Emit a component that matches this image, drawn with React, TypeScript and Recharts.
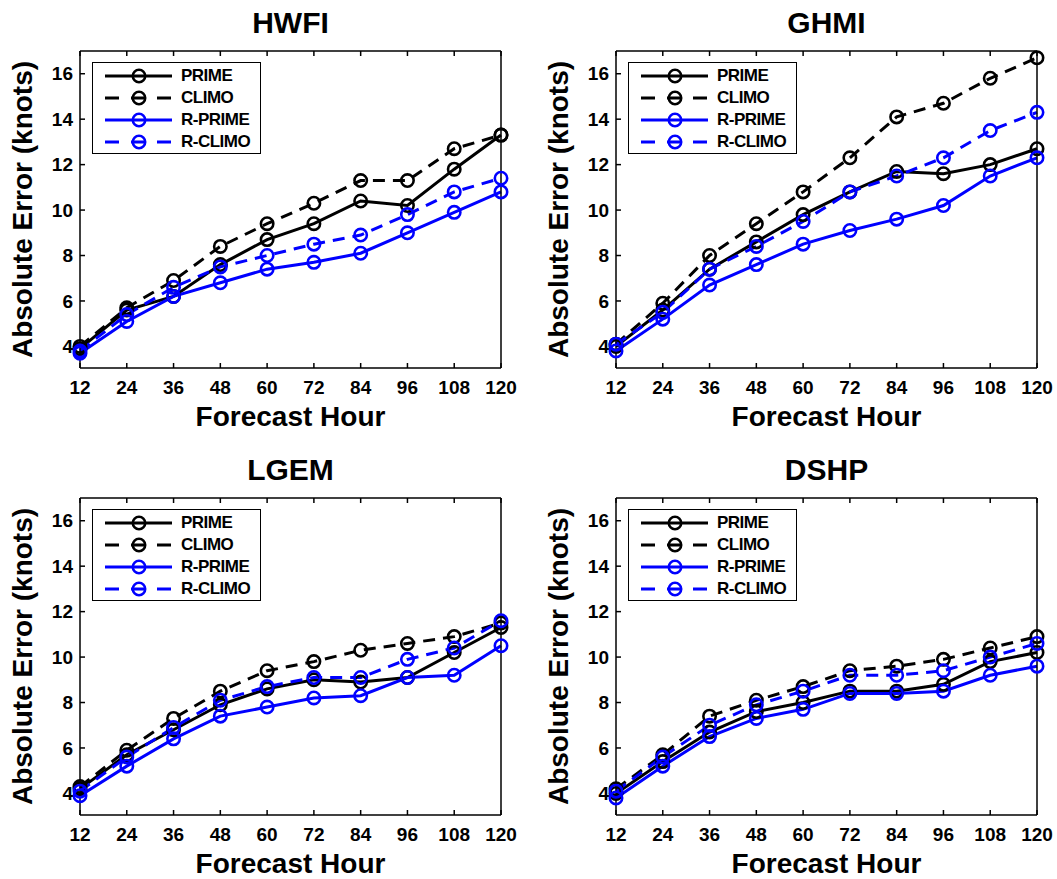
import React from 'react';
import { LineChart, Line, XAxis, YAxis } from 'recharts';

const hours = [12, 24, 36, 48, 60, 72, 84, 96, 108, 120];
const yTicks = [4, 6, 8, 10, 12, 14, 16];

const hwfiPrime = [3.9, 5.6, 6.2, 7.6, 8.7, 9.4, 10.4, 10.2, 11.8, 13.3];
const hwfiClimo = [4.0, 5.7, 6.9, 8.4, 9.4, 10.3, 11.3, 11.3, 12.7, 13.3];
const hwfiRPrime = [3.7, 5.1, 6.2, 6.8, 7.4, 7.7, 8.1, 9.0, 9.9, 10.8];
const hwfiRClimo = [3.8, 5.4, 6.6, 7.5, 8.0, 8.5, 8.9, 9.8, 10.8, 11.4];

const ghmiPrime = [4.0, 5.6, 7.4, 8.6, 9.8, 10.8, 11.7, 11.6, 12.0, 12.7];
const ghmiClimo = [4.1, 5.9, 8.0, 9.4, 10.8, 12.3, 14.1, 14.7, 15.8, 16.7];
const ghmiRPrime = [3.8, 5.2, 6.7, 7.6, 8.5, 9.1, 9.6, 10.2, 11.5, 12.3];
const ghmiRClimo = [4.1, 5.5, 7.4, 8.4, 9.5, 10.8, 11.5, 12.3, 13.5, 14.3];

const lgemPrime = [4.2, 5.7, 6.8, 7.9, 8.6, 9.0, 8.9, 9.1, 10.2, 11.3];
const lgemClimo = [4.3, 5.9, 7.3, 8.5, 9.4, 9.8, 10.3, 10.6, 10.9, 11.5];
const lgemRPrime = [3.9, 5.2, 6.4, 7.4, 7.8, 8.2, 8.3, 9.1, 9.2, 10.5];
const lgemRClimo = [4.1, 5.6, 6.9, 8.1, 8.7, 9.1, 9.1, 9.9, 10.4, 11.6];

const dshpPrime = [4.0, 5.4, 6.7, 7.6, 8.0, 8.5, 8.5, 8.8, 9.8, 10.2];
const dshpClimo = [4.2, 5.7, 7.4, 8.1, 8.7, 9.4, 9.6, 9.9, 10.4, 10.9];
const dshpRPrime = [3.8, 5.2, 6.5, 7.3, 7.7, 8.4, 8.4, 8.5, 9.2, 9.6];
const dshpRClimo = [4.1, 5.6, 7.0, 7.9, 8.5, 9.2, 9.2, 9.4, 10.0, 10.6];

const FONT = '"Liberation Sans", Arial, sans-serif';
const BLUE = '#0000ff';
const DASH = '12 8';

const seriesStyle = [
  { key: 'prime', name: 'PRIME', color: '#000', dashed: false },
  { key: 'climo', name: 'CLIMO', color: '#000', dashed: true },
  { key: 'rPrime', name: 'R-PRIME', color: BLUE, dashed: false },
  { key: 'rClimo', name: 'R-CLIMO', color: BLUE, dashed: true },
];

const PLOT_W = 421;
const PLOT_H = 317;

interface PanelProps {
  title: string;
  plotLeft: number;
  plotTop: number;
  prime: number[];
  climo: number[];
  rPrime: number[];
  rClimo: number[];
}

// open circle markers, no dash pattern
const ringDot = (color: string) => (p: any) => (
  <circle key={p.key ?? `${p.cx}-${p.cy}`} cx={p.cx} cy={p.cy} r={6.2} fill="none" stroke={color} strokeWidth={2.6} />
);

const LegendBox = () => (
  <div
    style={{
      position: 'absolute',
      left: 12,
      top: 11,
      width: 169,
      height: 92,
      border: '1.5px solid #000',
      background: '#fff',
      fontFamily: FONT,
      fontWeight: 'bold',
      fontSize: 17,
      boxSizing: 'border-box',
    }}
  >
    {seriesStyle.map((s, i) => (
      <div key={s.key} style={{ position: 'absolute', left: 0, top: 2 + i * 22, height: 22, display: 'flex', alignItems: 'center' }}>
        <svg width={88} height={22} style={{ display: 'block' }}>
          <line x1={12} y1={11} x2={79} y2={11} stroke={s.color} strokeWidth={3} strokeDasharray={s.dashed ? '14 12' : undefined} />
          <circle cx={46} cy={11} r={6.2} fill="none" stroke={s.color} strokeWidth={2.6} />
        </svg>
        <span style={{ color: '#000', lineHeight: '22px', letterSpacing: -0.5 }}>{s.name}</span>
      </div>
    ))}
  </div>
);

const Panel: React.FC<PanelProps> = ({ title, plotLeft, plotTop, prime, climo, rPrime, rClimo }) => {
  const data = hours.map((h, i) => ({ hour: h, prime: prime[i], climo: climo[i], rPrime: rPrime[i], rClimo: rClimo[i] }));
  const boxW = 80 + PLOT_W + 20;
  const boxH = 51 + PLOT_H + 62;
  const tickStyle = { fill: '#000', fontSize: 19, fontWeight: 'bold' as const, fontFamily: FONT };

  return (
    <div style={{ position: 'absolute', left: plotLeft - 80, top: plotTop - 51, width: boxW, height: boxH }}>
      <LineChart width={boxW} height={boxH} data={data} margin={{ top: 50, right: 19, left: 0, bottom: 0 }}>
        <XAxis
          xAxisId="bottom"
          dataKey="hour"
          type="number"
          domain={[12, 120]}
          ticks={hours}
          height={62}
          stroke="#000"
          strokeWidth={1.5}
          tickSize={-5}
          tickMargin={18}
          tick={tickStyle}
        />
        <XAxis
          xAxisId="top"
          orientation="top"
          dataKey="hour"
          type="number"
          domain={[12, 120]}
          ticks={hours}
          height={1}
          stroke="#000"
          strokeWidth={1.5}
          tickSize={-5}
          tickFormatter={() => ''}
        />
        <YAxis
          yAxisId="left"
          type="number"
          domain={[3.05, 17]}
          ticks={yTicks}
          width={80}
          stroke="#000"
          strokeWidth={1.5}
          tickSize={-5}
          tickMargin={12}
          tick={tickStyle}
        />
        <YAxis
          yAxisId="right"
          orientation="right"
          type="number"
          domain={[3.05, 17]}
          ticks={yTicks}
          width={1}
          stroke="#000"
          strokeWidth={1.5}
          tickSize={-5}
          tickFormatter={() => ''}
        />
        {seriesStyle.map((s) => (
          <Line
            key={s.key}
            xAxisId="bottom"
            yAxisId="left"
            type="linear"
            dataKey={s.key}
            name={s.name}
            stroke={s.color}
            strokeWidth={3}
            strokeDasharray={s.dashed ? DASH : undefined}
            dot={ringDot(s.color)}
            activeDot={false}
            isAnimationActive={false}
          />
        ))}
      </LineChart>
      <div style={{ position: 'absolute', left: 80, top: 51 }}>
        <LegendBox />
      </div>
      <svg width={boxW} height={boxH} style={{ position: 'absolute', left: 0, top: 0, pointerEvents: 'none', overflow: 'visible' }}>
        <text x={80 + PLOT_W / 2} y={33} textAnchor="middle" fontFamily={FONT} fontWeight="bold" fontSize={30} fill="#000">
          {title}
        </text>
        <text x={80 + PLOT_W / 2} y={51 + PLOT_H + 58} textAnchor="middle" fontFamily={FONT} fontWeight="bold" fontSize={28} fill="#000">
          Forecast Hour
        </text>
        <text
          x={32}
          y={51 + PLOT_H / 2}
          transform={`rotate(-90 32 ${51 + PLOT_H / 2})`}
          textAnchor="middle"
          fontFamily={FONT}
          fontWeight="bold"
          fontSize={28}
          fill="#000"
        >
          Absolute Error (knots)
        </text>
      </svg>
    </div>
  );
};

export default function App() {
  return (
    <div style={{ position: 'absolute', left: 0, top: 0, width: 1057, height: 879, background: '#fff', overflow: 'hidden' }}>
      <Panel title="HWFI" plotLeft={80} plotTop={51} prime={hwfiPrime} climo={hwfiClimo} rPrime={hwfiRPrime} rClimo={hwfiRClimo} />
      <Panel title="GHMI" plotLeft={616} plotTop={51} prime={ghmiPrime} climo={ghmiClimo} rPrime={ghmiRPrime} rClimo={ghmiRClimo} />
      <Panel title="LGEM" plotLeft={80} plotTop={498} prime={lgemPrime} climo={lgemClimo} rPrime={lgemRPrime} rClimo={lgemRClimo} />
      <Panel title="DSHP" plotLeft={616} plotTop={498} prime={dshpPrime} climo={dshpClimo} rPrime={dshpRPrime} rClimo={dshpRClimo} />
    </div>
  );
}
